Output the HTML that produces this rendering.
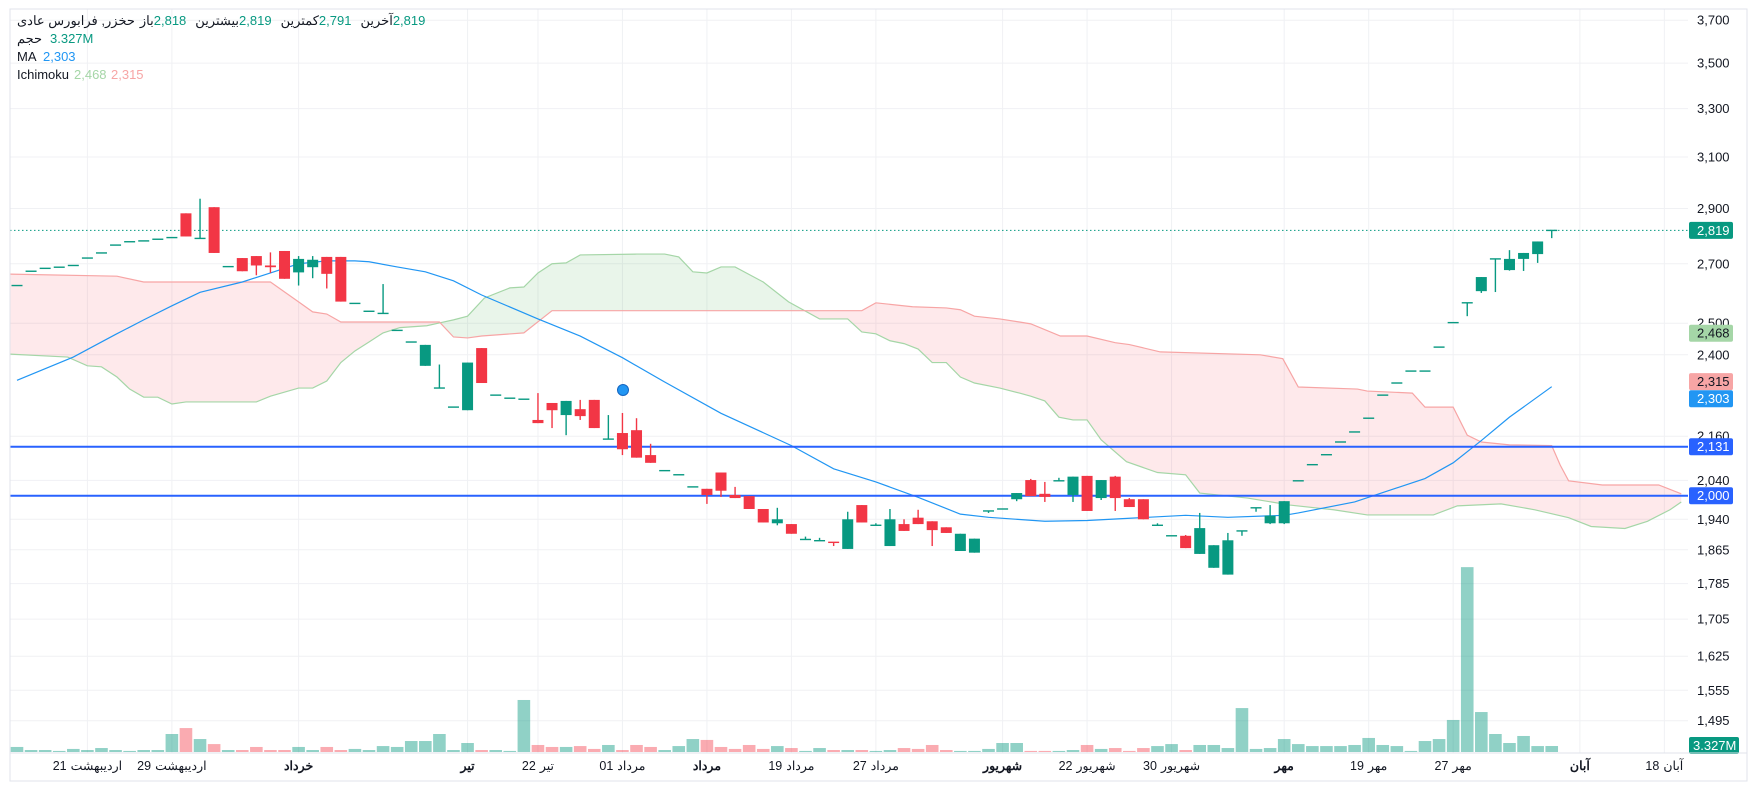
<!DOCTYPE html>
<html><head><meta charset="utf-8"><style>
html,body{margin:0;padding:0;background:#fff;}
svg{display:block;font-family:"Liberation Sans","Noto Sans CJK SC",sans-serif;}
</style></head><body>
<svg id="chart" width="1757" height="790" viewBox="0 0 1757 790" xmlns="http://www.w3.org/2000/svg">
<rect x="0" y="0" width="1757" height="790" fill="#ffffff"/>
<g id="grid"></g>
<g id="cloud"></g>
<g id="volume"></g>
<g id="ma"></g>
<g id="hlines"></g>
<g id="candles"></g>
<g id="axis"></g>
<g id="taxis"></g>
<g id="legend" font-size="13">
  <g id="ohlc">
    <text y="25" fill="#131722">حخزر, فرابورس عادی</text>
    <text y="25" fill="#131722">باز</text>
    <text y="25" fill="#089981">2,818</text>
    <text y="25" fill="#131722">بیشترین</text>
    <text y="25" fill="#089981">2,819</text>
    <text y="25" fill="#131722">کمترین</text>
    <text y="25" fill="#089981">2,791</text>
    <text y="25" fill="#131722">آخرین</text>
    <text y="25" fill="#089981">2,819</text>
  </g>
  <text x="17" y="43" fill="#131722">حجم</text>
  <text x="50" y="43" fill="#089981">3.327M</text>
  <text x="17" y="61" fill="#131722">MA</text>
  <text x="43" y="61" fill="#2196f3">2,303</text>
  <text x="17" y="79" fill="#131722">Ichimoku</text>
  <text x="74" y="79" fill="#a5d6a7">2,468</text>
  <text x="111" y="79" fill="#f7a5a5">2,315</text>
</g>
<circle cx="623" cy="390" r="5.5" fill="#2196f3" stroke="#1565c0" stroke-width="1"/>
<rect x="10" y="9" width="1737" height="772" fill="none" stroke="#e0e3eb" stroke-width="1"/>
</svg>
<script>
const opens=[2625,2674,2684,2688,2694,2720,2738,2766,2778,2781,2787,2793,2882,2790,2905,2690,2720,2727,2694,2745,2670,2688,2724,2724,2565,2539,2532,2477,2440,2366,2299,2243,2234,2421,2278,2269,2266,2206,2255,2220,2237,2264,2152,2169,2177,2108,2066,2055,2023,2018,2061,2002,1999,1966,1930,1928,1890,1887,1883,1867,1976,1925,1874,1928,1944,1935,1920,1862,1858,1961,1966,1991,2041,2005,2039,2002,2052,1994,2050,1991,1991,1925,1899,1899,1855,1822,1806,1911,1969,1930,1930,2039,2082,2109,2144,2172,2211,2278,2314,2350,2350,2424,2502,2567,2606,2717,2678,2717,2734,2818];
const highs=[2625,2674,2684,2688,2694,2720,2738,2766,2778,2781,2787,2793,2882,2937,2905,2690,2720,2727,2740,2745,2727,2727,2724,2724,2565,2539,2630,2477,2440,2431,2370,2243,2376,2421,2278,2269,2266,2284,2255,2261,2264,2264,2220,2226,2211,2139,2066,2055,2023,2018,2061,2023,1999,1966,1969,1928,1897,1894,1883,1959,1976,1930,1966,1940,1964,1935,1920,1904,1892,1961,1966,2007,2044,2036,2047,2050,2052,2041,2052,1994,1991,1930,1899,1901,1956,1876,1906,1911,1969,1976,1986,2039,2082,2109,2144,2172,2211,2278,2314,2350,2350,2424,2502,2567,2654,2717,2748,2738,2779,2819];
const lows=[2625,2674,2684,2688,2694,2720,2738,2766,2778,2781,2787,2793,2797,2790,2738,2690,2674,2660,2668,2648,2625,2650,2615,2571,2565,2539,2532,2477,2440,2366,2299,2243,2234,2314,2278,2269,2266,2197,2183,2163,2206,2183,2152,2108,2101,2087,2066,2055,2023,1979,1997,1994,1966,1932,1925,1904,1890,1887,1874,1867,1932,1925,1874,1911,1928,1874,1906,1862,1858,1956,1966,1986,1999,1984,2039,1984,1961,1989,1961,1971,1940,1925,1899,1869,1855,1822,1806,1899,1959,1928,1928,2039,2082,2109,2144,2172,2211,2278,2314,2350,2350,2424,2502,2523,2600,2603,2676,2675,2703,2791];
const closes=[2625,2674,2684,2688,2694,2720,2738,2766,2778,2781,2787,2793,2797,2790,2738,2690,2674,2694,2688,2648,2717,2714,2665,2571,2565,2539,2532,2477,2440,2431,2299,2243,2376,2314,2278,2269,2266,2197,2234,2261,2217,2183,2152,2124,2101,2087,2066,2055,2023,2002,2013,1994,1966,1932,1940,1904,1890,1887,1882,1940,1932,1925,1940,1911,1928,1913,1906,1904,1892,1961,1966,2007,1999,1997,2039,2050,1961,2041,1994,1971,1940,1925,1899,1869,1918,1876,1888,1911,1969,1949,1986,2039,2082,2109,2144,2172,2211,2278,2314,2350,2350,2424,2502,2567,2654,2717,2717,2738,2779,2819];
const volumes=[2.8,1.1,1.1,0.6,1.7,1.1,2.2,1.1,0.6,1.1,1.1,10,13.3,7.2,4.4,1.1,1.1,2.8,1.1,1.1,2.8,1.1,2.8,1.1,1.7,1.1,3.3,2.8,6.1,6.1,10,1.1,5,1.1,1.1,0.6,28.9,3.9,2.8,2.8,3.3,1.7,3.9,1.1,3.9,2.8,1.1,3.3,7.2,6.7,2.8,1.7,3.9,1.7,3.3,2.2,0.6,2.2,1.1,1.1,1.1,0.6,1.1,2.2,1.7,3.9,1.1,0.6,0.6,1.7,5,5,0.6,0.6,0.6,1.1,3.9,1.7,2.2,0.6,2.2,3.3,4.4,1.1,3.9,3.9,2.2,24.4,1.7,2.2,7.2,4.4,3.3,3.3,3.3,3.9,7.8,3.9,3.3,0.6,6.1,7.2,17.8,102.7,22.2,10,5,8.9,3.3,3.327];
const maIdx=[0,4,7,9,11,13,16,18,20,22,24,25,27,29,31,33,37,40,43,46,50,55,58,61,64,67,69,73,76,83,86,90,91,95,100,102,104,106,109];
const maVals=[2322,2393,2464,2511,2557,2602,2637,2668,2700,2710,2710,2707,2689,2672,2641,2593,2514,2459,2391,2317,2225,2134,2071,2036,1996,1953,1945,1935,1937,1950,1945,1950,1956,1984,2045,2087,2148,2214,2303];
const spanAIdx=[-0.5,3.6,5,6,7.1,8,9,10,11,12,17,18,20,21,22,23,24,25,26,27.2,29.1,30,31,32,33.2,35,36,37,38,39,40,44,46,47,48,49,50,51,53,54.8,57,59,60,61,62,63,64,65,66,67,68,69.8,71.2,72,73,74,75,76,77,78.8,81,83,84,87.4,90.4,93.5,95.9,100.6,102.3,105.4,107.8,110.2,111.8,114.2,115.8,117.4,118.2];
const spanA=[2402,2393,2366,2363,2332,2296,2272,2272,2252,2258,2258,2275,2299,2299,2320,2376,2412,2440,2469,2486,2492,2501,2511,2523,2583,2617,2620,2668,2700,2703,2731,2734,2734,2724,2672,2668,2689,2689,2637,2570,2514,2514,2472,2466,2444,2435,2418,2376,2376,2332,2314,2299,2284,2275,2261,2214,2206,2206,2150,2090,2061,2055,2007,1994,1976,1964,1951,1951,1974,1979,1964,1944,1922,1917,1935,1964,1984];
const spanBIdx=[-0.5,7.1,9,18,20,21,22,23,30,31,32,33,36,38,60,61,63.6,66,67,68,69.8,71.2,72,74.1,76,78,79,81.2,88.3,89.9,91,95.2,95.9,99.1,100,102,103,104,106,109,109.6,110.2,112.6,116.6,118.2];
const spanB=[2664,2657,2637,2637,2570,2537,2530,2504,2504,2456,2453,2459,2469,2541,2541,2567,2554,2550,2544,2523,2514,2504,2498,2459,2459,2438,2432,2409,2400,2388,2302,2296,2290,2284,2243,2243,2163,2144,2136,2134,2081,2039,2028,2028,2005];
const priceTicks=[3700,3500,3300,3100,2900,2700,2500,2400,2160,2040,1940,1865,1785,1705,1625,1555,1495];
const timeIdx=[5,11,20,32,37,43,49,55,61,70,76,82,90,96,102,111,117];
const timeNums=["21","29","","","22","01","","19","27","","22","30","","19","27","","18"];
const timeWords=["اردیبهشت","اردیبهشت","خرداد","تیر","تیر","مرداد","مرداد","مرداد","مرداد","شهریور","شهریور","شهریور","مهر","مهر","مهر","آبان","آبان"];
const timeBold=[0,0,1,1,0,0,1,0,0,1,0,0,1,0,0,1,0];
const hLevels=[2131,2000];

const NS="http://www.w3.org/2000/svg";
const PL=10, PR=1688, VBASE=752;
function X(i){return 17+14.08*i;}
function Y(p){return 20.2+(Math.log(3700)-Math.log(p))*773;}
function VY(v){return VBASE-v*1.8;}
function mk(tag,attrs,parent){const e=document.createElementNS(NS,tag);for(const k in attrs)e.setAttribute(k,attrs[k]);parent.appendChild(e);return e;}
function fmt(p){return Math.round(p).toLocaleString('en-US');}

// legend layout
(function(){
  const items=document.querySelectorAll('#ohlc text');
  const gaps=[5,0,9,0,9,0,9,0,0];
  let x=17;
  items.forEach((t,k)=>{t.setAttribute('x',x);x+=t.getComputedTextLength()+gaps[k];});
})();

const grid=document.getElementById('grid');
priceTicks.forEach(p=>{
  const l=mk('line',{x1:PL,x2:PR,y1:Y(p),y2:Y(p),stroke:'#f0f1f4','stroke-width':1},grid);
  
  
});
timeIdx.forEach(i=>{
  const l=mk('line',{x1:X(i),x2:X(i),y1:9,y2:753,stroke:'#f0f1f4','stroke-width':1},grid);
  
  
});

function interp(idx,vals,t){
  if(t<=idx[0])return vals[0];
  for(let k=1;k<idx.length;k++){if(t<=idx[k]){const f=(t-idx[k-1])/(idx[k]-idx[k-1]);return vals[k-1]+(vals[k]-vals[k-1])*f;}}
  return vals[vals.length-1];
}
const cloud=document.getElementById('cloud');
const t0=-0.5,t1=118.2;
let gTop=[],gBot=[],rTop=[],rBot=[];
for(let t=t0;t<=t1+1e-6;t+=0.05){
  const ya=Y(interp(spanAIdx,spanA,t)), yb=Y(interp(spanBIdx,spanB,t)), x=X(t);
  const lo=Math.max(ya,yb);
  gTop.push(x+','+ya);gBot.unshift(x+','+lo);
  rTop.push(x+','+yb);rBot.unshift(x+','+lo);
}
const gFill=mk('polygon',{points:gTop.concat(gBot).join(' '),fill:'rgba(76,175,80,0.12)'},cloud);


const rFill=mk('polygon',{points:rTop.concat(rBot).join(' '),fill:'rgba(242,54,69,0.11)'},cloud);


const aLine=mk('polyline',{points:spanAIdx.map((t,k)=>X(t)+','+Y(spanA[k])).join(' '),fill:'none',stroke:'#a5d6a7','stroke-width':1.2},cloud);


const bLine=mk('polyline',{points:spanBIdx.map((t,k)=>X(t)+','+Y(spanB[k])).join(' '),fill:'none',stroke:'#f7a5a5','stroke-width':1.2},cloud);



const vol=document.getElementById('volume');
volumes.forEach((v,i)=>{
  const up=closes[i]>=opens[i];
  const r=mk('rect',{x:X(i)-6.3,y:VY(v),width:12.6,height:VBASE-VY(v),fill:up?'rgba(8,153,129,0.45)':'rgba(242,54,69,0.42)'},vol);
  
  
});

const ma=document.getElementById('ma');
const maL=mk('polyline',{points:maIdx.map((t,k)=>X(t)+','+Y(maVals[k])).join(' '),fill:'none',stroke:'#2196f3','stroke-width':1.2},ma);



const hl=document.getElementById('hlines');
hLevels.forEach(p=>{
  const l=mk('line',{x1:PL,x2:PR,y1:Y(p),y2:Y(p),stroke:'#2962ff','stroke-width':2},hl);
  
  
});
const dl=mk('line',{x1:PL,x2:PR,y1:Y(closes[closes.length-1]),y2:Y(closes[closes.length-1]),stroke:'#089981','stroke-width':1,'stroke-dasharray':'1.5,2.5'},hl);



const cg=document.getElementById('candles');
opens.forEach((o,i)=>{
  const c=closes[i],h=highs[i],l=lows[i],up=c>=o,col=up?'#089981':'#f23645',x=X(i);
  const g=mk('g',{},cg);
  
  
  mk('line',{x1:x,x2:x,y1:Y(h),y2:Y(l),stroke:col,'stroke-width':1.4},g);
  const yt=Math.min(Y(o),Y(c)),yb=Math.max(Y(o),Y(c));
  const bh=Math.max(yb-yt,1.4);
  mk('rect',{x:x-5.5,y:(yb-yt<1.4?yt-0.7:yt),width:11,height:bh,fill:col},g);
});

const ax=document.getElementById('axis');
priceTicks.forEach(p=>{
  const t=mk('text',{x:1697,y:Y(p)+4.5,'font-size':13,fill:'#131722'},ax);
  t.textContent=fmt(p);
  
  
});
const lastSpanA=2468,lastSpanB=2315,lastMA=maVals[maVals.length-1];
const badges=[[closes[closes.length-1],'#089981','#fff',0],[lastSpanA,'#a5d6a7','#131722',0],[lastSpanB,'#f7a5a5','#131722',-1],[lastMA,'#2196f3','#fff',12],[hLevels[0],'#2962ff','#fff',0],[hLevels[1],'#2962ff','#fff',0]];
badges.forEach(b=>{
  const y=Y(b[0])+b[3];
  const r=mk('rect',{x:1689,y:y-8.5,width:44,height:17,rx:2,fill:b[1]},ax);
  
  
  const t=mk('text',{x:1697,y:y+4.5,'font-size':13,fill:b[2]},ax);
  t.textContent=fmt(b[0]);
  
  
});
const vb=mk('rect',{x:1689,y:VY(volumes[volumes.length-1])-9,width:50,height:17,rx:2,fill:'#089981'},ax);


const vt=mk('text',{x:1693,y:VY(volumes[volumes.length-1])+4,'font-size':13,fill:'#fff'},ax);
vt.textContent=volumes[volumes.length-1]+'M';



const ta=document.getElementById('taxis');
const tl=mk('line',{x1:PL,x2:1747,y1:753,y2:753,stroke:'#e0e3eb','stroke-width':1},ta);


timeIdx.forEach((i,k)=>{
  const w=timeBold[k]?'bold':'normal';
  const wt=mk('text',{y:770,'font-size':12.5,fill:'#131722','font-weight':w},ta);
  wt.textContent=timeWords[k];
  
  
  const ww=wt.getComputedTextLength();
  if(timeNums[k]){
    const nt=mk('text',{y:770,'font-size':12.5,fill:'#131722'},ta);
    nt.textContent=timeNums[k];
    
    
    const nw=nt.getComputedTextLength(),gap=4,tot=nw+gap+ww,x0=X(i)-tot/2;
    nt.setAttribute('x',x0);
    wt.setAttribute('x',x0+nw+gap);
  } else {
    wt.setAttribute('x',X(i)-ww/2);
  }
});
</script>
</body></html>
